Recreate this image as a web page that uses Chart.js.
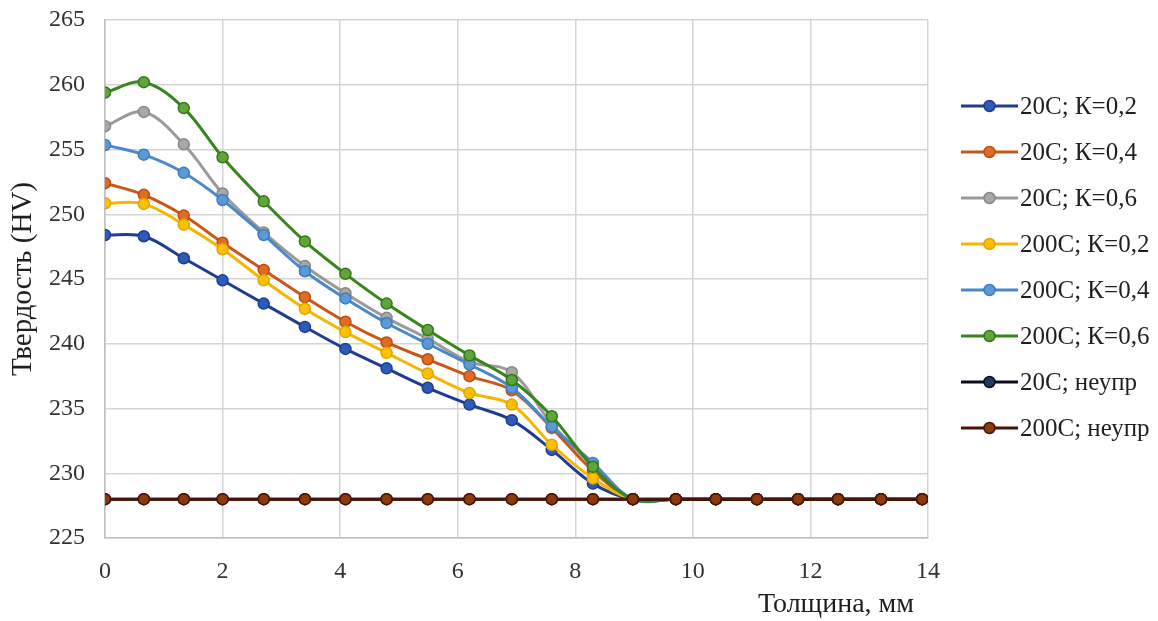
<!DOCTYPE html>
<html>
<head>
<meta charset="utf-8">
<script src="https://cdn.jsdelivr.net/npm/chart.js@4/dist/chart.umd.min.js"></script>
<style>
  html, body { margin: 0; padding: 0; background: #ffffff; }
  #wrap { width: 1158px; height: 621px; position: relative; }
</style>
</head>
<body>
<div id="wrap"><canvas id="c" width="1158" height="621"></canvas></div>
<script>
// Thickness positions, mm
const thickness = [0, 0.66, 1.34, 2.0, 2.7, 3.4, 4.09, 4.79, 5.49, 6.2, 6.92, 7.6, 8.3, 8.98, 9.71, 10.39, 11.09, 11.79, 12.47, 13.2, 13.9];

// Hardness profiles, HV
const hv20K02  = [248.4, 248.3, 246.6, 244.9, 243.1, 241.3, 239.6, 238.1, 236.6, 235.3, 234.1, 231.8, 229.2, 228, 228, 228, 228, 228, 228, 228, 228];
const hv20K04  = [252.4, 251.5, 249.9, 247.8, 245.7, 243.6, 241.7, 240.1, 238.8, 237.5, 236.4, 233.5, 230.2, 228, 228, 228, 228, 228, 228, 228, 228];
const hv20K06  = [256.8, 257.9, 255.4, 251.6, 248.6, 246.0, 243.9, 242.0, 240.4, 238.6, 237.8, 233.8, 230.6, 228, 228, 228, 228, 228, 228, 228, 228];
const hv200K02 = [250.85, 250.8, 249.2, 247.3, 244.9, 242.7, 240.9, 239.3, 237.7, 236.2, 235.3, 232.2, 229.6, 228, 228, 228, 228, 228, 228, 228, 228];
const hv200K04 = [255.35, 254.6, 253.2, 251.1, 248.4, 245.6, 243.5, 241.6, 240.0, 238.4, 236.6, 233.6, 230.8, 228, 228, 228, 228, 228, 228, 228, 228];
const hv200K06 = [259.4, 260.2, 258.2, 254.4, 251.0, 247.9, 245.4, 243.1, 241.06, 239.1, 237.2, 234.4, 230.5, 228, 228, 228, 228, 228, 228, 228, 228];
const hv20Base  = [228, 228, 228, 228, 228, 228, 228, 228, 228, 228, 228, 228, 228, 228, 228, 228, 228, 228, 228, 228, 228];
const hv200Base = [228, 228, 228, 228, 228, 228, 228, 228, 228, 228, 228, 228, 228, 228, 228, 228, 228, 228, 228, 228, 228];

const seriesNames = ['20C; К=0,2', '20C; К=0,4', '20C; К=0,6', '200C; К=0,2', '200C; К=0,4', '200C; К=0,6', '20C; неупр', '200C; неупр'];
const seriesValues = [hv20K02, hv20K04, hv20K06, hv200K02, hv200K04, hv200K06, hv20Base, hv200Base];

// Axis ranges
const xMin = 0, xMax = 14, xStep = 2;
const yMin = 225, yMax = 265, yStep = 5;

const xTitle = 'Толщина, мм';
const yTitle = 'Твердость (HV)';

// line colour, marker fill, marker edge
const palette = [
  ['#1f3c91', '#2c5cb8', '#1f3c91'],
  ['#c8581a', '#e06c22', '#b84e12'],
  ['#9a9a9a', '#a8a8a8', '#878787'],
  ['#f4b600', '#ffc000', '#dea600'],
  ['#4a88c9', '#5b9bd5', '#3f7bbf'],
  ['#37851b', '#5fa539', '#327818'],
  ['#0d0d1a', '#203864', '#0d0d1a'],
  ['#4a1408', '#8c3a0c', '#4a1408']
];

const FONT = "'Liberation Serif', 'Times New Roman', serif";

const datasets = seriesNames.map((name, i) => ({
  label: name,
  data: thickness.map((x, k) => ({ x: x, y: seriesValues[i][k] })),
  borderColor: palette[i][0],
  backgroundColor: palette[i][1],
  pointBackgroundColor: palette[i][1],
  pointBorderColor: palette[i][2],
  borderWidth: 3,
  pointRadius: 5.5,
  pointBorderWidth: 1.5,
  pointHoverRadius: 5.5,
  tension: 0.35,
  fill: false,
  // later series are painted over earlier ones
  order: seriesNames.length - i
}));

// Legend on the right: line segment with a marker, then the label
const sideLegend = {
  id: 'sideLegend',
  afterDraw(chart) {
    const ctx = chart.ctx;
    const x0 = 961, x1 = 1018, top = 106, gap = 46;
    ctx.save();
    chart.data.datasets.forEach((ds, i) => {
      const y = top + i * gap;
      ctx.strokeStyle = ds.borderColor;
      ctx.lineWidth = 3;
      ctx.beginPath();
      ctx.moveTo(x0, y);
      ctx.lineTo(x1, y);
      ctx.stroke();
      ctx.beginPath();
      ctx.arc((x0 + x1) / 2, y, 5.5, 0, Math.PI * 2);
      ctx.fillStyle = ds.pointBackgroundColor;
      ctx.fill();
      ctx.lineWidth = 1.5;
      ctx.strokeStyle = ds.pointBorderColor;
      ctx.stroke();
      ctx.fillStyle = '#1f1f1f';
      ctx.font = '25px ' + FONT;
      ctx.textBaseline = 'middle';
      ctx.textAlign = 'left';
      ctx.fillText(ds.label, x1 + 2, y + 1);
    });
    ctx.restore();
  }
};

const whiteBg = {
  id: 'whiteBg',
  beforeDraw(chart) {
    const ctx = chart.ctx;
    ctx.save();
    ctx.fillStyle = '#ffffff';
    ctx.fillRect(0, 0, chart.width, chart.height);
    ctx.restore();
  }
};

new Chart(document.getElementById('c'), {
  type: 'line',
  data: { datasets: datasets },
  plugins: [whiteBg, sideLegend],
  options: {
    responsive: false,
    animation: false,
    events: [],
    layout: { padding: { left: 0, top: 20, right: 230, bottom: 0 } },
    plugins: { legend: { display: false }, tooltip: { enabled: false } },
    scales: {
      x: {
        type: 'linear',
        min: xMin, max: xMax,
        ticks: { stepSize: xStep, padding: 19, color: '#333333', font: { family: FONT, size: 24 } },
        grid: { color: '#d4d4d4', lineWidth: 1.5, drawTicks: false },
        border: { color: '#bfbfbf', width: 1.5 },
        title: { display: true, text: xTitle + '  ', align: 'end', color: '#1f1f1f', font: { family: FONT, size: 28 }, padding: { top: 6, bottom: 0 } },
        afterFit(scale) { scale.height = 83; scale.paddingLeft = 0; scale.paddingRight = 0; }
      },
      y: {
        type: 'linear',
        min: yMin, max: yMax,
        ticks: { stepSize: yStep, padding: 20, color: '#333333', font: { family: FONT, size: 24 } },
        grid: { color: '#d4d4d4', lineWidth: 1.5, drawTicks: false },
        border: { color: '#bfbfbf', width: 1.5 },
        title: { display: true, text: yTitle, color: '#1f1f1f', font: { family: FONT, size: 29 }, padding: { top: 6, bottom: 0 } },
        afterFit(scale) { scale.width = 105; scale.paddingTop = 0; scale.paddingBottom = 0; }
      }
    }
  }
});
</script>
</body>
</html>
